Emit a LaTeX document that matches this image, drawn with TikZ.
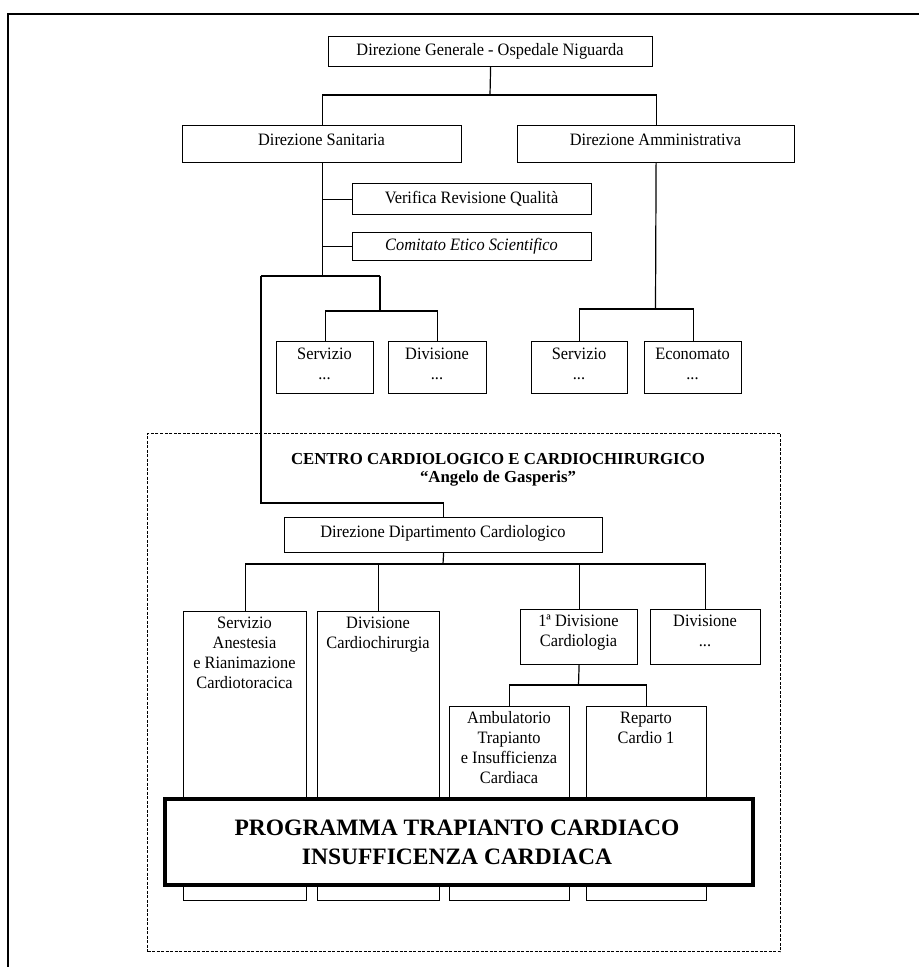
\documentclass[tikz,border=0pt]{standalone}
\usepackage{fontspec}
\setmainfont{Liberation Serif}
\newfontfamily\narrowserif[FakeStretch=0.94]{Liberation Serif}
\begin{document}
\begin{tikzpicture}[x=1pt,y=-1pt,
  box/.style={draw, line width=1.2pt, inner sep=0pt, anchor=north west},
  bigbox/.style={draw, line width=4pt, fill=white, inner sep=0pt, anchor=north west},
  dashbox/.style={draw, line width=1pt, dash pattern=on 3pt off 1.5pt, inner sep=0pt, anchor=north west},
  txt/.style={inner sep=0pt, align=center, font=\narrowserif\fontsize{17.4}{20}\selectfont},
  ttxt/.style={txt, anchor=north},
  btxt/.style={inner sep=0pt, align=center, font=\fontsize{16.8}{20}\selectfont\bfseries},
  hugetxt/.style={inner sep=0pt, align=center, font=\fontsize{23.5}{29}\selectfont\bfseries},
  conn/.style={line width=1.2pt},
  frame/.style={line width=1.6pt},
]
\useasboundingbox (0,0) rectangle (919,967);
\fill[white] (0,0) rectangle (919,967);

% outer frame (only top and left visible)
\coordinate (f1) at (8,967);
\coordinate (f2) at (8,14);
\coordinate (f3) at (919,14);
\draw[frame] (f1) -- (f2) -- (f3);

% top level
\node[box, minimum width=324pt, minimum height=30pt] (dg) at (328,36) {};
\node[txt] (dgt) at (490,51) {Direzione Generale - Ospedale Niguarda};
\node[box, minimum width=279pt, minimum height=37pt] (ds) at (182,125) {};
\node[txt] (dst) at (321.5,140) {Direzione Sanitaria};
\node[box, minimum width=277pt, minimum height=37pt] (da) at (517,125) {};
\node[txt] (dat) at (655.5,140) {Direzione Amministrativa};
\node[box, minimum width=239pt, minimum height=31pt] (vr) at (352,183) {};
\node[txt] (vrt) at (471.5,199) {Verifica Revisione Qualità};
\node[box, minimum width=239pt, minimum height=28pt] (cs) at (352,232) {};
\node[txt, font=\narrowserif\fontsize{17.4}{20}\selectfont\itshape] (cst) at (471.5,246.5) {Comitato Etico Scientifico};

% second level small boxes
\node[box, minimum width=97pt, minimum height=52pt] (s1) at (276,341) {};
\node[ttxt] (s1t) at (324.5,345) {\strut Servizio\\\strut ...};
\node[box, minimum width=98pt, minimum height=52pt] (d1) at (388,341) {};
\node[ttxt] (d1t) at (437,345) {\strut Divisione\\\strut ...};
\node[box, minimum width=96pt, minimum height=52pt] (s2) at (531,341) {};
\node[ttxt] (s2t) at (579,345) {\strut Servizio\\\strut ...};
\node[box, minimum width=97pt, minimum height=52pt] (e2) at (644,341) {};
\node[ttxt] (e2t) at (692.5,345) {\strut Economato\\\strut ...};

% centro
\node[dashbox, minimum width=633pt, minimum height=518pt] (centro) at (147,433) {};
\node[btxt] (ct1) at (498,459) {CENTRO CARDIOLOGICO E CARDIOCHIRURGICO};
\node[btxt] (ct2) at (498,479) {“Angelo de Gasperis”};

\node[box, minimum width=318pt, minimum height=35pt] (dd) at (284,517) {};
\node[txt] (ddt) at (443,533) {Direzione Dipartimento Cardiologico};

\node[box, minimum width=123pt, minimum height=289pt] (sa) at (183,611) {};
\node[ttxt] (sat) at (244.5,614) {\strut Servizio\\\strut Anestesia\\\strut e Rianimazione\\\strut Cardiotoracica};
\node[box, minimum width=122pt, minimum height=289pt] (dc) at (317,611) {};
\node[ttxt] (dct) at (378,614) {\strut Divisione\\\strut Cardiochirurgia};
\node[box, minimum width=117pt, minimum height=55pt] (d1c) at (520,609) {};
\node[ttxt] (d1ct) at (578.5,612) {\strut 1ª Divisione\\\strut Cardiologia};
\node[box, minimum width=110pt, minimum height=55pt] (dx) at (650,609) {};
\node[ttxt] (dxt) at (705,612) {\strut Divisione\\\strut ...};
\node[box, minimum width=120pt, minimum height=194pt] (amb) at (449,706) {};
\node[ttxt] (ambt) at (509,709) {\strut Ambulatorio\\\strut Trapianto\\\strut e Insufficienza\\\strut Cardiaca};
\node[box, minimum width=120pt, minimum height=194pt] (rep) at (586,706) {};
\node[ttxt] (rept) at (646,709) {\strut Reparto\\\strut Cardio 1};

\node[bigbox, minimum width=588pt, minimum height=86pt] (big) at (163,797) {};
\node[hugetxt] (bigt) at (457,842.5) {PROGRAMMA TRAPIANTO CARDIACO\\INSUFFICENZA CARDIACA};

% connectors
\coordinate (j1) at (490,95);
\draw[conn] (dg.south) -- (j1);
\draw[conn] (ds.north) |- (j1) -| (da.north);
\coordinate (j2l) at (261,276);
\coordinate (j2r) at (380,276);
\draw[conn] (ds.south) -- (ds.south |- j2l);
\draw[conn] (j2l) -- (j2r);
\draw[conn] (vr.west) -- (vr.west -| ds.south);
\draw[conn] (cs.west) -- (cs.west -| ds.south);
\coordinate (j3) at (380,311);
\draw[conn] (j2r) -- (j3);
\draw[conn] (s1.north) |- (j3) -| (d1.north);
\coordinate (j4) at (261,503);
\draw[conn] (j2l) -- (j4) -| (dd.north);
\coordinate (j5) at (655.5,309);
\draw[conn] (da.south) -- (j5);
\draw[conn] (s2.north) |- (j5) -| (e2.north);
\coordinate (j6) at (443,564);
\draw[conn] (dd.south) -- (j6);
\draw[conn] (sa.north) |- (j6) -| (dx.north);
\draw[conn] (dc.north) -- (dc.north |- j6);
\draw[conn] (d1c.north) -- (d1c.north |- j6);
\coordinate (j7) at (578.5,685);
\draw[conn] (d1c.south) -- (j7);
\draw[conn] (amb.north) |- (j7) -| (rep.north);
\end{tikzpicture}
\end{document}
